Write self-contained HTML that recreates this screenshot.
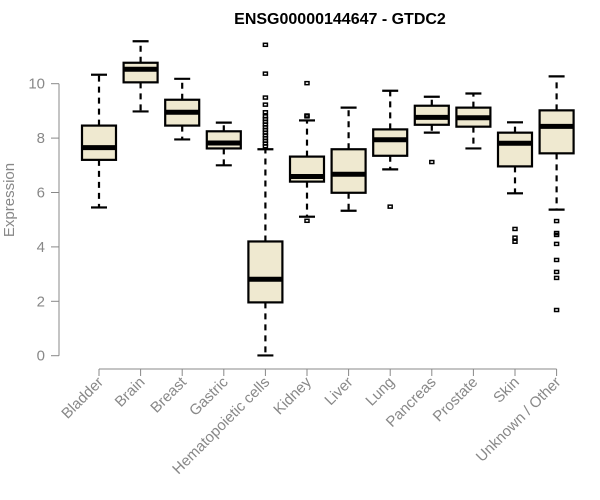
<!DOCTYPE html>
<html><head><meta charset="utf-8"><style>
body{margin:0;background:#fff}
svg{display:block;font-family:"Liberation Sans",Arial,sans-serif}
</style></head><body>
<svg id="chart" width="600" height="500" viewBox="0 0 600 500">
<text x="340" y="24" text-anchor="middle" font-weight="bold" font-size="16">ENSG00000144647 - GTDC2</text>
<text transform="translate(14,200) rotate(-90)" text-anchor="middle" font-size="15" fill="#888">Expression</text>
<g id="axes"></g><g id="boxes"></g>
</svg>
<script>
const categories=["Bladder","Brain","Breast","Gastric","Hematopoietic cells","Kidney","Liver","Lung","Pancreas","Prostate","Skin","Unknown / Other"];
const whiskLow=[5.45,8.98,7.95,7.0,0.01,5.11,5.33,6.85,8.2,7.62,5.97,5.37];
const q1=[7.2,10.05,8.46,7.62,1.96,6.4,5.99,7.35,8.49,8.42,6.96,7.44];
const medians=[7.65,10.53,8.95,7.82,2.81,6.59,6.67,7.94,8.76,8.75,7.81,8.43];
const q3=[8.46,10.77,9.41,8.25,4.2,7.32,7.59,8.32,9.19,9.12,8.2,9.02];
const whiskHigh=[10.33,11.56,10.18,8.57,7.59,8.65,9.12,9.74,9.52,9.64,8.58,10.27];
const outliers=[[],[],[],[],[11.43,10.37,9.49,9.23,8.95,8.8,8.7,8.6,8.5,8.4,8.3,8.2,8.1,8.0,7.9,7.8,7.7],[10.02,8.83,8.8,4.96],[],[5.48],[7.12],[],[4.66,4.34,4.19],[4.95,4.51,4.44,4.11,3.52,3.08,2.86,1.68]];
const yTicks=[0,2,4,6,8,10];
const NS="http://www.w3.org/2000/svg";
const y=v=>355.7-v*27.2;
const x=i=>99+41.6*i;
function mk(t,a,p){const e=document.createElementNS(NS,t);for(const k in a)e.setAttribute(k,a[k]);p.appendChild(e);return e;}
const ax=document.getElementById('axes'),bx=document.getElementById('boxes');
const yl=mk('line',{x1:59,x2:59,y1:y(10),y2:y(0),stroke:'#888'},ax);


yTicks.forEach(t=>{
 const l=mk('line',{x1:51,x2:59,y1:y(t),y2:y(t),stroke:'#888'},ax);
 
 
 const tx=mk('text',{x:45,y:y(t)+5,'text-anchor':'end','font-size':15,fill:'#888'},ax);
 
 
 tx.textContent=t;
});
const xl=mk('line',{x1:x(0),x2:x(11),y1:369,y2:369,stroke:'#888'},ax);


categories.forEach((c,i)=>{
 const cx=x(i);
 const l=mk('line',{x1:cx,x2:cx,y1:369,y2:376,stroke:'#888'},ax);
 
 
 const tx=mk('text',{transform:`translate(${cx+5},${383}) rotate(-45)`,'text-anchor':'end','font-size':15,fill:'#888'},ax);
 
 
 tx.textContent=c;
 const g=mk('g',{},bx);
 
 
 const st={stroke:'#000','stroke-width':2.2};
 mk('line',Object.assign({x1:cx,x2:cx,y1:y(q3[i]),y2:y(whiskHigh[i]),'stroke-dasharray':'6,5'},st),g);
 mk('line',Object.assign({x1:cx,x2:cx,y1:y(q1[i]),y2:y(whiskLow[i]),'stroke-dasharray':'6,5'},st),g);
 mk('line',Object.assign({x1:cx-8,x2:cx+8,y1:y(whiskHigh[i]),y2:y(whiskHigh[i])},st),g);
 mk('line',Object.assign({x1:cx-8,x2:cx+8,y1:y(whiskLow[i]),y2:y(whiskLow[i])},st),g);
 mk('rect',Object.assign({x:cx-17,y:y(q3[i]),width:34,height:y(q1[i])-y(q3[i]),fill:'#efe9d0'},st),g);
 mk('line',{x1:cx-17,x2:cx+17,y1:y(medians[i]),y2:y(medians[i]),stroke:'#000','stroke-width':5},g);
 outliers[i].forEach(v=>{mk('rect',{x:cx-2,y:y(v)-1.5,width:4,height:3,fill:'none',stroke:'#000','stroke-width':1.5},g);});
});
</script>
</body></html>
